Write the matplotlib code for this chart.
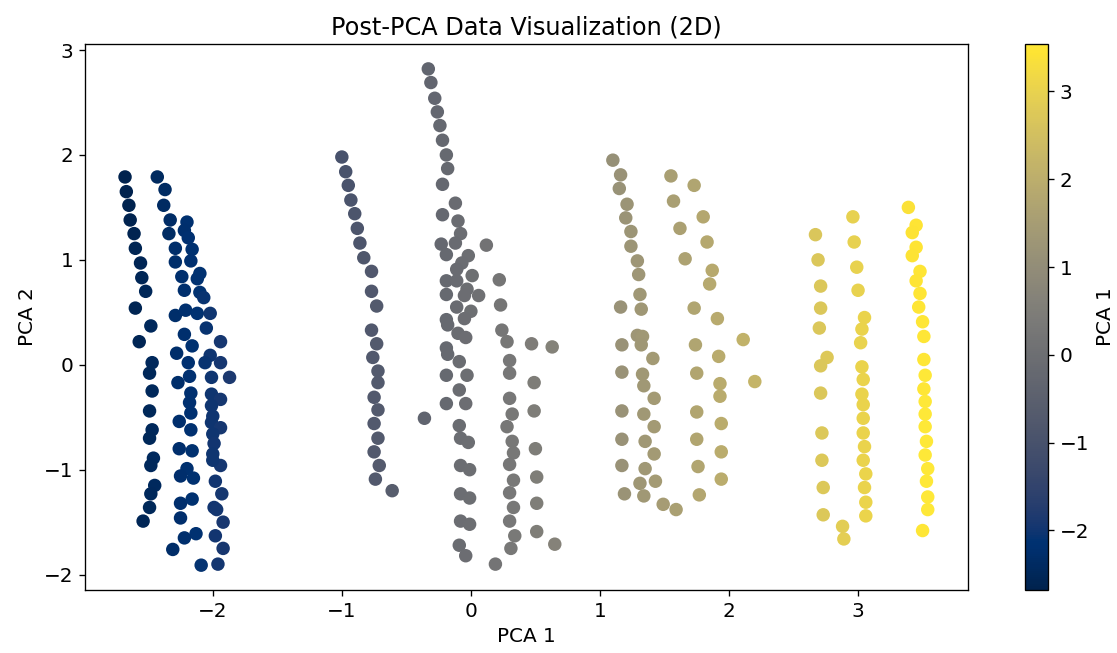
import numpy as np
import matplotlib
matplotlib.use('Agg')
import matplotlib.pyplot as plt

plt.rcParams['font.size'] = 12

# PCA-projected points, grouped roughly by the vertical bands seen in the chart
blue_x = [-2.68, -2.67, -2.65, -2.64, -2.61, -2.60, -2.56, -2.55, -2.52, -2.60, -2.48, -2.57,
          -2.47, -2.49, -2.47, -2.49, -2.47, -2.49, -2.46, -2.48, -2.45, -2.48, -2.49, -2.54,
          -2.43, -2.37, -2.38, -2.33, -2.34, -2.29, -2.29, -2.24, -2.22, -2.29, -2.21, -2.22,
          -2.28, -2.16, -2.19, -2.27, -2.18, -2.17, -2.18, -2.17, -2.26, -2.17, -2.26, -2.16,
          -2.20, -2.25, -2.15, -2.25, -2.16, -2.25, -2.13, -2.22, -2.31, -2.09,
          -2.20, -2.22, -2.19, -2.16, -2.17, -2.10, -2.12, -2.10, -2.07, -2.12, -2.02, -2.05,
          -1.94, -2.02, -1.94, -2.06, -2.01, -1.87, -2.01, -1.94, -2.01, -2.00, -2.01, -1.94,
          -2.00, -1.99, -2.00, -1.94, -2.00, -1.98, -1.93, -1.99, -1.97, -1.92, -1.98, -1.92, -1.96]
blue_y = [1.79, 1.65, 1.52, 1.38, 1.25, 1.11, 0.97, 0.83, 0.70, 0.54, 0.37, 0.22,
          0.02, -0.08, -0.25, -0.44, -0.62, -0.70, -0.89, -0.96, -1.15, -1.23, -1.36, -1.49,
          1.79, 1.67, 1.52, 1.38, 1.25, 1.11, 0.98, 0.84, 0.71, 0.47, 0.52, 0.29,
          0.11, 0.18, 0.02, -0.17, -0.11, -0.27, -0.36, -0.46, -0.54, -0.62, -0.80, -0.82,
          -0.99, -1.06, -1.08, -1.32, -1.28, -1.46, -1.61, -1.65, -1.76, -1.91,
          1.36, 1.28, 1.21, 1.10, 0.99, 0.87, 0.82, 0.69, 0.64, 0.49, 0.49, 0.35,
          0.22, 0.09, 0.02, 0.02, -0.12, -0.12, -0.28, -0.33, -0.39, -0.49, -0.55, -0.60,
          -0.66, -0.75, -0.85, -0.96, -0.91, -1.11, -1.23, -1.36, -1.38, -1.50, -1.63, -1.75, -1.90]

slate_x = [-1.00, -0.97, -0.95, -0.93, -0.90, -0.88, -0.86, -0.83, -0.77, -0.77, -0.73, -0.77,
           -0.73, -0.76, -0.72, -0.72, -0.75, -0.72, -0.75, -0.72, -0.75, -0.71, -0.74, -0.61, -0.36]
slate_y = [1.98, 1.84, 1.71, 1.57, 1.44, 1.30, 1.16, 1.02, 0.89, 0.70, 0.56, 0.33,
           0.20, 0.07, -0.06, -0.17, -0.31, -0.43, -0.56, -0.70, -0.83, -0.96, -1.09, -1.20, -0.51]

gray_x = [-0.33, -0.31, -0.28, -0.26, -0.24, -0.22, -0.19, -0.18, -0.22, -0.12, -0.22, -0.10,
          -0.08, -0.23, -0.19, -0.12, 0.12, -0.02, -0.07, -0.11, 0.01, -0.19, 0.22, -0.11,
          -0.03, 0.06, -0.19, -0.05, 0.23, -0.11, 0.00, -0.19, -0.05, -0.18, -0.10, -0.04,
          0.24, 0.28, 0.47, 0.63, -0.19, -0.18, -0.09, 0.30, 0.30, -0.19, -0.03, 0.49,
          -0.09, -0.19, -0.04, 0.30, 0.32, 0.49, -0.09, -0.08, -0.02, 0.28, 0.32, 0.33,
          0.50, -0.08, -0.01, 0.30, 0.33, 0.51, -0.08, -0.01, 0.30, 0.33, 0.51, -0.08,
          -0.01, 0.30, 0.34, 0.51, 0.65, -0.09, -0.04, 0.31, 0.19]
gray_y = [2.82, 2.69, 2.54, 2.41, 2.28, 2.14, 2.00, 1.87, 1.72, 1.54, 1.43, 1.37,
          1.25, 1.15, 1.05, 1.16, 1.14, 1.04, 0.97, 0.91, 0.85, 0.80, 0.81, 0.80,
          0.72, 0.66, 0.67, 0.66, 0.57, 0.55, 0.51, 0.43, 0.44, 0.38, 0.30, 0.26,
          0.33, 0.22, 0.20, 0.17, 0.16, 0.10, 0.03, 0.04, -0.08, -0.10, -0.10, -0.17,
          -0.24, -0.37, -0.37, -0.32, -0.47, -0.44, -0.58, -0.70, -0.74, -0.59, -0.73, -0.84,
          -0.80, -0.96, -1.00, -0.95, -1.10, -1.07, -1.23, -1.27, -1.22, -1.36, -1.32, -1.49,
          -1.52, -1.49, -1.63, -1.59, -1.71, -1.72, -1.82, -1.75, -1.90]

tan_x = [1.10, 1.16, 1.15, 1.21, 1.20, 1.24, 1.24, 1.29, 1.30, 1.31, 1.16, 1.32,
         1.29, 1.33, 1.32, 1.17, 1.41, 1.17, 1.17, 1.17, 1.17, 1.19,
         1.33, 1.34, 1.42, 1.34, 1.42, 1.35, 1.42, 1.35, 1.43, 1.31, 1.34, 1.49, 1.59,
         1.55, 1.57, 1.62, 1.66, 1.73, 1.74, 1.75, 1.75, 1.75, 1.76, 1.77,
         1.73, 1.80, 1.83, 1.87, 1.85, 1.91, 1.92, 1.93, 1.93, 1.94, 1.94, 1.94, 2.11, 2.20]
tan_y = [1.95, 1.81, 1.68, 1.53, 1.40, 1.27, 1.13, 0.99, 0.86, 0.67, 0.55, 0.53,
         0.28, 0.27, 0.19, 0.19, 0.06, -0.07, -0.44, -0.71, -0.96, -1.23,
         -0.09, -0.20, -0.32, -0.47, -0.59, -0.73, -0.85, -0.99, -1.11, -1.13, -1.25, -1.33, -1.38,
         1.80, 1.56, 1.30, 1.01, 0.54, 0.19, -0.08, -0.45, -0.71, -0.97, -1.24,
         1.71, 1.41, 1.17, 0.90, 0.77, 0.44, 0.08, -0.18, -0.30, -0.56, -0.83, -1.09, 0.24, -0.16]

yellow_x = [2.67, 2.69, 2.71, 2.71, 2.70, 2.76, 2.71, 2.71, 2.72, 2.72, 2.73, 2.73, 2.88, 2.89,
            2.96, 2.97, 2.99, 3.00, 3.05, 3.03, 3.02, 3.03, 3.04, 3.03, 3.04, 3.04, 3.04, 3.05,
            3.04, 3.06, 3.05, 3.06, 3.06,
            3.39, 3.45, 3.42, 3.45, 3.42, 3.48, 3.45, 3.48, 3.47, 3.50, 3.51, 3.51, 3.52, 3.51,
            3.52, 3.52, 3.52, 3.53, 3.52, 3.54, 3.53, 3.54, 3.54, 3.50]
yellow_y = [1.24, 1.00, 0.75, 0.54, 0.35, 0.07, -0.01, -0.27, -0.65, -0.91, -1.17, -1.43, -1.54, -1.66,
            1.41, 1.17, 0.93, 0.71, 0.45, 0.34, 0.21, -0.02, -0.14, -0.28, -0.38, -0.51, -0.65, -0.78,
            -0.91, -1.04, -1.17, -1.31, -1.44,
            1.50, 1.33, 1.26, 1.12, 1.04, 0.89, 0.80, 0.68, 0.55, 0.41, 0.27, 0.05, -0.10, -0.23,
            -0.35, -0.47, -0.59, -0.73, -0.86, -0.99, -1.11, -1.26, -1.38, -1.58]

x = np.array(blue_x + slate_x + gray_x + tan_x + yellow_x)
y = np.array(blue_y + slate_y + gray_y + tan_y + yellow_y)

fig = plt.figure(figsize=(1117/120, 653/120), dpi=120)
ax = fig.add_axes([0.076, 0.0965, 0.7905, 0.836])
cax = fig.add_axes([0.9176, 0.0965, 0.0206, 0.836])

sc = ax.scatter(x, y, c=x, cmap='cividis', s=50)
ax.set_title('Post-PCA Data Visualization (2D)')
ax.set_xlabel('PCA 1')
ax.set_ylabel('PCA 2')

cb = fig.colorbar(sc, cax=cax)
cb.set_label('PCA 1')

fig.savefig('out.png', dpi=120)
